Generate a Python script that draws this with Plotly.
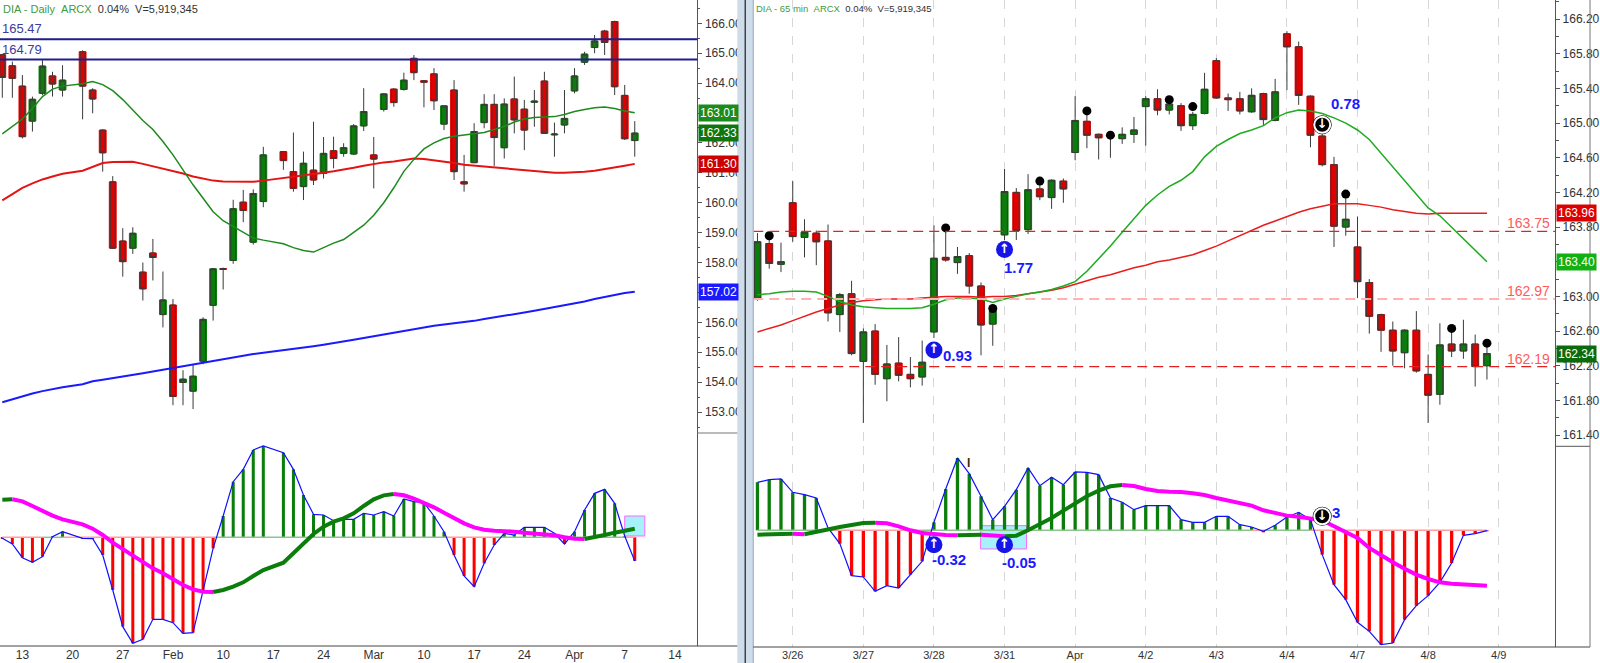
import numpy as np
import pandas as pd
import plotly.graph_objects as go

##########################################################################
# DIA daily (left) - trading days Jan 9 .. Apr 8 2014
holidays = ['2014-01-20', '2014-02-17']
d_dates = [d for d in pd.bdate_range('2014-01-09', '2014-04-08').strftime('%Y-%m-%d')
           if d not in holidays]

d_open = [164.95, 164.58, 163.90, 162.73, 163.66, 164.24, 163.77,
          165.05, 163.77, 162.43, 160.70,
          158.72, 158.48, 157.68, 158.32, 156.26,
          156.58, 153.99, 153.70, 154.70, 156.57,
          157.80, 158.07, 160.02, 158.68, 160.04,
          161.71, 161.04, 160.54, 161.09,
          160.98, 161.74, 161.65, 161.63, 162.57,
          161.60, 163.12, 163.80, 163.79, 164.83,
          164.08, 164.31, 162.63, 163.77, 160.70,
          161.34, 162.68, 163.29, 161.84, 163.47,
          163.13, 163.36, 164.07, 162.27, 162.60,
          163.74, 164.70, 165.19, 165.74, 166.06,
          163.59, 162.08]
d_high = [164.98, 164.72, 164.27, 163.55, 164.77, 164.38, 164.60,
          165.10, 163.83, 162.45, 160.89,
          159.15, 159.18, 158.00, 158.79, 157.70,
          156.78, 154.40, 154.60, 156.17, 157.82,
          157.83, 160.10, 160.43, 160.45, 161.87,
          161.72, 162.35, 161.71, 162.71,
          162.20, 162.21, 161.99, 162.63, 163.83,
          162.20, 163.66, 163.83, 164.35, 164.94,
          164.10, 164.50, 163.24, 164.10, 161.60,
          162.66, 163.63, 163.63, 163.49, 164.22,
          163.44, 163.77, 164.38, 162.68, 163.77,
          164.50, 165.05, 165.61, 165.78, 166.09,
          163.94, 162.73]
d_low = [163.51, 163.51, 162.15, 162.38, 163.60, 163.55, 163.55,
         162.79, 162.99, 161.04, 158.45,
         157.53, 158.29, 156.73, 157.40, 155.83,
         153.23, 153.23, 153.10, 154.60, 156.06,
         157.10, 157.96, 159.35, 158.60, 159.85,
         161.10, 160.37, 160.09, 160.59,
         160.81, 161.15, 161.54, 161.60, 162.40,
         160.48, 163.05, 163.21, 163.75, 164.10,
         163.19, 163.10, 162.43, 160.76, 160.37,
         161.34, 162.49, 161.23, 161.48, 162.32,
         161.76, 162.54, 162.32, 161.54, 162.32,
         163.66, 164.61, 165.00, 164.94, 163.60,
         162.10, 161.54]
d_close = [164.19, 164.16, 162.21, 163.46, 164.57, 163.97, 164.10,
           163.90, 163.47, 161.67, 158.48,
           158.03, 158.98, 157.12, 158.17, 156.75,
           153.52, 154.10, 154.20, 156.10, 157.79,
           157.77, 159.80, 159.74, 160.31, 161.60,
           161.41, 160.48, 161.32, 160.76,
           161.65, 161.48, 161.84, 162.57, 163.05,
           161.46, 163.64, 163.35, 164.10, 164.35,
           164.03, 163.41, 163.24, 161.04, 160.63,
           162.38, 163.29, 162.18, 163.30, 162.77,
           162.43, 163.40, 162.32, 162.30, 162.82,
           164.24, 164.97, 165.41, 165.36, 163.88,
           162.14, 162.33]
d_ma_fast = [162.30, 162.55, 162.80, 163.15, 163.55, 163.80, 163.90,
             163.98, 164.05, 163.95, 163.75,
             163.45, 163.10, 162.75, 162.45, 162.05,
             161.60, 161.10, 160.60, 160.15, 159.70,
             159.40, 159.20, 159.00, 158.82, 158.75,
             158.63, 158.50, 158.40, 158.35,
             158.50, 158.65, 158.77, 159.00, 159.25,
             159.58, 160.00, 160.50, 161.05, 161.45,
             161.80, 162.00, 162.15, 162.22, 162.27,
             162.30, 162.35, 162.45, 162.55, 162.70,
             162.80, 162.85, 162.86, 162.88, 162.95,
             163.05, 163.12, 163.18, 163.20, 163.15,
             163.07, 163.01]
d_ma_mid = [160.08, 160.30, 160.50, 160.65, 160.78, 160.88, 160.97,
            161.07, 161.20, 161.33, 161.36,
            161.37, 161.37, 161.30, 161.22, 161.15,
            161.08, 160.98, 160.88, 160.80, 160.74,
            160.71, 160.70, 160.70, 160.70, 160.74,
            160.82, 160.86, 160.91, 160.95,
            161.00, 161.05, 161.10, 161.17, 161.24,
            161.30, 161.35, 161.38, 161.43, 161.48,
            161.46, 161.42, 161.38, 161.33, 161.27,
            161.24, 161.21, 161.18, 161.15, 161.12,
            161.09, 161.06, 161.04, 161.00, 161.00,
            161.01, 161.04, 161.07, 161.12, 161.17,
            161.24, 161.30]
d_ma_slow = [153.33, 153.43, 153.52, 153.62, 153.70, 153.77, 153.83,
             153.93, 154.03, 154.08, 154.13,
             154.19, 154.25, 154.30, 154.36, 154.42,
             154.47, 154.53, 154.58, 154.65, 154.71,
             154.77, 154.83, 154.89, 154.94, 154.98,
             155.06, 155.11, 155.16, 155.20,
             155.25, 155.30, 155.36, 155.42, 155.48,
             155.54, 155.60, 155.66, 155.72, 155.78,
             155.84, 155.89, 155.93, 155.97, 156.00,
             156.05, 156.11, 156.16, 156.22, 156.27,
             156.33, 156.39, 156.45, 156.51, 156.57,
             156.63, 156.70, 156.78, 156.85, 156.92,
             156.98, 157.02]
d_hist = [-0.03, -0.20, -0.61, -0.75, -0.58, 0.02, 0.17,
          -0.03, -0.04, -0.53, -1.58,
          -2.68, -3.18, -3.06, -2.46, -2.46,
          -2.56, -2.88, -2.86, -1.58, -0.33,
          0.64, 1.67, 2.04, 2.62, 2.74,
          2.54, 2.04, 1.27, 0.69,
          0.67, 0.50, 0.54, 0.54, 0.72,
          0.67, 0.77, 0.64, 1.15, 1.07,
          1.04, 0.64, 0.17, -0.53, -1.16,
          -1.48, -0.78, -0.23, 0.12, 0.07,
          0.30, 0.30, 0.30, 0.12, -0.20,
          0.17, 0.82, 1.32, 1.44, 1.02,
          0.04, -0.71]
d_signal = [1.13, 1.14, 1.08, 0.94, 0.79, 0.65, 0.54,
            0.39, 0.26, 0.07, -0.16,
            -0.36, -0.56, -0.73, -0.93, -1.08,
            -1.26, -1.43, -1.56, -1.63, -1.64,
            -1.58, -1.48, -1.35, -1.16, -0.98,
            -0.76, -0.48, -0.18, 0.10,
            0.32, 0.47, 0.57, 0.72, 0.94,
            1.14, 1.26, 1.30, 1.26, 1.16,
            1.04, 0.90, 0.74, 0.57, 0.42,
            0.30, 0.23, 0.20, 0.19, 0.17,
            0.14, 0.12, 0.10, 0.06, 0.00,
            -0.04, -0.05, 0.00, 0.07, 0.14,
            0.20, 0.26]
d_levels = [165.47, 164.79]
d_price_ticks = [153, 154, 155, 156, 158, 159, 160, 161, 162, 164, 165, 166]
d_week_ticks = pd.date_range('2014-01-13', '2014-04-14', freq='W-MON')
d_week_labels = ['13', '20', '27', 'Feb', '10', '17', '24', 'Mar',
                 '10', '17', '24', 'Apr', '7', '14']

##########################################################################
# DIA 65 min (right) - 3/25 (last 3 bars) .. 4/8, six bars per session
sessions = pd.bdate_range('2014-03-25', '2014-04-09')
i_day_labels = ['3/26', '3/27', '3/28', '3/31', 'Apr', '4/2', '4/3',
                '4/4', '4/7', '4/8', '4/9']
i_price_ticks = [161.4, 161.8, 162.2, 162.6, 163.0, 163.8,
                 164.2, 164.6, 165.0, 165.4, 165.8, 166.2]

i_open = [162.98, 163.61, 163.37,
          164.08, 163.68, 163.73, 163.64, 162.79, 163.03,
          162.25, 162.60, 162.05, 162.23, 162.10, 162.07,
          162.59, 163.45, 163.39, 163.47, 163.12, 162.68,
          163.71, 164.20, 163.77, 164.24, 164.14, 164.33,
          164.66, 165.02, 164.87, 164.85, 164.82, 164.87,
          165.19, 165.28, 165.15, 165.20, 164.97, 165.11,
          165.72, 165.29, 165.28, 165.13, 165.34, 165.03,
          166.03, 165.88, 165.31, 164.85, 164.52, 163.80,
          163.57, 163.16, 162.79, 162.61, 162.35, 162.61,
          162.10, 161.87, 162.45, 162.37, 162.45, 162.20]
i_high = [163.73, 163.68, 163.62,
          164.33, 163.89, 163.76, 163.83, 163.04, 163.18,
          162.63, 162.68, 162.44, 162.53, 162.30, 162.49,
          163.82, 163.74, 163.57, 163.50, 163.16, 162.89,
          164.47, 164.25, 164.41, 164.36, 164.35, 164.36,
          165.31, 165.09, 164.88, 164.86, 164.95, 165.07,
          165.31, 165.39, 165.29, 165.23, 165.13, 165.58,
          165.75, 165.34, 165.36, 165.40, 165.35, 165.51,
          166.06, 165.94, 165.32, 164.90, 164.61, 164.15,
          163.92, 163.20, 162.80, 162.71, 162.62, 162.83,
          162.33, 162.69, 162.59, 162.73, 162.56, 162.44]
i_low = [162.95, 163.32, 163.28,
         163.63, 163.45, 163.36, 162.71, 162.59, 162.32,
         161.54, 161.98, 161.79, 162.02, 161.95, 161.97,
         162.52, 163.40, 163.26, 163.03, 162.32, 162.43,
         163.65, 163.65, 163.72, 164.11, 164.01, 164.08,
         164.57, 164.71, 164.58, 164.60, 164.76, 164.77,
         164.74, 165.09, 165.10, 164.91, 164.92, 165.10,
         165.28, 165.14, 165.10, 165.12, 164.97, 165.02,
         165.38, 165.21, 164.72, 164.50, 163.57, 163.70,
         162.98, 162.57, 162.36, 162.20, 162.17, 162.12,
         161.54, 161.75, 162.30, 162.28, 161.96, 162.04]
i_close = [163.63, 163.38, 163.40,
           163.69, 163.74, 163.63, 162.81, 163.02, 162.34,
           162.59, 162.10, 162.22, 162.09, 162.05, 162.24,
           163.44, 163.42, 163.46, 163.12, 162.67, 162.83,
           164.21, 163.76, 164.23, 164.15, 164.34, 164.24,
           165.03, 164.86, 164.83, 164.84, 164.87, 164.92,
           165.28, 165.15, 165.22, 164.97, 165.10, 165.39,
           165.29, 165.27, 165.14, 165.32, 165.04, 165.36,
           165.88, 165.32, 164.86, 164.52, 163.81, 163.89,
           163.17, 162.77, 162.61, 162.37, 162.61, 162.14,
           161.86, 162.44, 162.37, 162.45, 162.19, 162.34]
i_ma_fast = [163.02, 163.03, 163.05,
             163.06, 163.06, 163.05, 163.00, 162.94, 162.90,
             162.88, 162.87, 162.86, 162.86, 162.86, 162.87,
             162.91, 162.96, 162.98, 162.98, 162.97, 162.93,
             162.97, 163.00, 163.03, 163.05, 163.08, 163.12,
             163.17, 163.29, 163.43, 163.58, 163.74, 163.90,
             164.05, 164.17, 164.27, 164.34, 164.44, 164.61,
             164.73, 164.81, 164.88, 164.92, 164.97, 165.06,
             165.12, 165.15, 165.14, 165.11, 165.06, 165.00,
             164.92, 164.81, 164.65, 164.50, 164.34, 164.17,
             164.02, 163.93, 163.80, 163.67, 163.54, 163.40]
i_ma_slow = [162.59, 162.63, 162.67,
             162.72, 162.77, 162.82, 162.86, 162.90, 162.93,
             162.95, 162.96, 162.97, 162.97, 162.97, 162.98,
             162.99, 163.00, 163.00, 163.00, 162.99, 163.00,
             163.00, 163.01, 163.03, 163.05, 163.07, 163.10,
             163.14, 163.18, 163.22, 163.25, 163.29, 163.33,
             163.36, 163.40, 163.42, 163.45, 163.48, 163.53,
             163.58, 163.64, 163.70, 163.76, 163.82, 163.87,
             163.92, 163.97, 164.01, 164.04, 164.07, 164.07,
             164.07, 164.05, 164.03, 164.00, 163.98, 163.96,
             163.95, 163.96, 163.96, 163.96, 163.96, 163.96]
i_hist = [1.44, 1.52, 1.54,
          1.14, 1.07, 0.97, 0.07, -0.40, -1.36,
          -1.40, -1.83, -1.66, -1.73, -1.33, -0.93,
          0.24, 1.24, 2.17, 1.70, 1.02, 0.32,
          0.72, 1.22, 1.87, 1.34, 1.59, 1.37,
          1.75, 1.74, 1.67, 0.97, 0.84, 0.62,
          0.74, 0.74, 0.74, 0.32, 0.24, 0.24,
          0.42, 0.42, 0.17, 0.10, -0.03, 0.15,
          0.40, 0.54, 0.32, -0.73, -1.63, -2.08,
          -2.76, -3.03, -3.43, -3.38, -2.68, -2.26,
          -1.96, -1.56, -0.98, -0.15, -0.10, -0.01]
i_signal = [-0.13, -0.12, -0.11,
            -0.10, -0.12, -0.04, 0.03, 0.10, 0.16,
            0.22, 0.23, 0.21, 0.12, 0.00, -0.08,
            -0.12, -0.14, -0.15, -0.14, -0.13, -0.17,
            -0.18, -0.16, 0.00, 0.17, 0.37, 0.59,
            0.82, 1.02, 1.19, 1.32, 1.36, 1.33,
            1.24, 1.18, 1.16, 1.15, 1.11, 1.06,
            0.97, 0.90, 0.84, 0.74, 0.60, 0.52,
            0.44, 0.41, 0.37, 0.30, 0.12, -0.05,
            -0.23, -0.53, -0.76, -0.96, -1.15, -1.33,
            -1.46, -1.56, -1.60, -1.63, -1.65, -1.66]
i_levels = [163.75, 162.97, 162.19]
i_dot_bars = [1, 16, 20, 24, 28, 30, 35, 37, 50, 59, 62]
i_dot_price = [163.70, 163.79, 162.86, 164.33, 165.14, 164.86,
               165.27, 165.19, 164.18, 162.63, 162.46]
i_up_bars = [15, 21]
i_up_price = [162.38, 163.54]
i_up_osc = [-0.43, -0.43]
i_down_bars = [48]
i_down_price = [164.98]
i_down_osc = [0.42]

##########################################################################
W, H = 1600, 663
GREEN, RED = '#0a7d0a', '#e00000'
BLUE, MAGENTA = '#1010ff', '#ff00ff'
FONT = 'Liberation Sans, Arial, sans-serif'


def px(x):
    return x / W


def py(y):
    return 1 - y / H


d_x = np.busday_count(np.datetime64('2014-01-09'),
                      np.array(d_dates, dtype='datetime64[D]'))
d_tick_x = np.busday_count(np.datetime64('2014-01-09'),
                           np.array(d_week_ticks.strftime('%Y-%m-%d'), dtype='datetime64[D]'))

grid = [(s, j) for s in range(len(sessions)) for j in range(6)]
bars = grid[3:3 + len(i_open)]
i_x = np.array([6 * s + j for s, j in bars]) - 6
i_tick_x = [6 * s - 6 for s in range(1, len(sessions))]

fig = go.Figure()


def add_candles(x, o, h, l, c, xa, ya, width):
    fig.add_trace(go.Candlestick(
        x=x, open=o, high=h, low=l, close=c, xaxis=xa, yaxis=ya,
        increasing=dict(line=dict(color='#3a3a3a', width=1), fillcolor=GREEN),
        decreasing=dict(line=dict(color='#3a3a3a', width=1), fillcolor=RED),
        whiskerwidth=0, hoverinfo='skip', showlegend=False))
    o, c = np.array(o), np.array(c)
    cols = [GREEN if cc >= oo else RED for oo, cc in zip(o, c)]
    fig.add_trace(go.Bar(
        x=x, y=np.maximum(np.abs(c - o), 0.012), base=np.minimum(o, c),
        width=width, marker=dict(color=cols, line=dict(color=cols, width=1)),
        xaxis=xa, yaxis=ya, hoverinfo='skip', showlegend=False))


def add_line(x, y, color, width, xa, ya):
    fig.add_trace(go.Scatter(x=x, y=y, mode='lines', line=dict(color=color, width=width),
                             xaxis=xa, yaxis=ya, hoverinfo='skip', showlegend=False))


def add_runs(x, y, seg_colors, width, xa, ya):
    # one trace per run of equally coloured segments
    start = 0
    for i in range(1, len(seg_colors) + 1):
        if i == len(seg_colors) or seg_colors[i] != seg_colors[start]:
            add_line(x[start:i + 1], y[start:i + 1], seg_colors[start], width, xa, ya)
            start = i


def add_oscillator(x, hist, signal, xa, ya, bar_w):
    zero_cols = ['#8cc58c' if hist[i + 1] >= 0 else '#ff9c9c' for i in range(len(hist) - 1)]
    add_runs(x, [0] * len(hist), zero_cols, 1.5, xa, ya)
    fig.add_trace(go.Bar(x=x, y=hist, width=bar_w,
                         marker=dict(color=[GREEN if v >= 0 else '#ff0000' for v in hist],
                                     line=dict(width=0)),
                         xaxis=xa, yaxis=ya, hoverinfo='skip', showlegend=False))
    add_line(x, hist, BLUE, 1.2, xa, ya)
    sig_cols = [GREEN if signal[i + 1] >= signal[i] else MAGENTA for i in range(len(signal) - 1)]
    add_runs(x, signal, sig_cols, 4, xa, ya)


def add_icon(x, y, xa, ya, fill, arrow, ring):
    if ring:
        fig.add_trace(go.Scatter(x=x, y=y, mode='markers', xaxis=xa, yaxis=ya,
                                 marker=dict(color='black', size=19, symbol='circle'),
                                 hoverinfo='skip', showlegend=False))
    fig.add_trace(go.Scatter(x=x, y=y, mode='markers+text', xaxis=xa, yaxis=ya,
                             marker=dict(color=fill, size=16 if ring else 17, symbol='circle',
                                         line=dict(color='white', width=2 if ring else 0)),
                             text=[f'<b>{arrow}</b>'] * len(x), textposition='middle center',
                             textfont=dict(color='white', size=13, family='DejaVu Sans'),
                             hoverinfo='skip', showlegend=False))


# left: daily
add_line(d_x, d_ma_slow, '#1a1aff', 2, 'x', 'y')
add_line(d_x, d_ma_mid, '#e41414', 2, 'x', 'y')
add_line(d_x, d_ma_fast, '#1d8a1d', 1.5, 'x', 'y')
add_candles(d_x, d_open, d_high, d_low, d_close, 'x', 'y', 0.68)
add_oscillator(d_x, d_hist, d_signal, 'x2', 'y2', 0.3)

# right: 65 min
add_line(i_x, i_ma_slow, '#ea1c1c', 1.5, 'x3', 'y3')
add_line(i_x, i_ma_fast, '#1faa1f', 1.5, 'x3', 'y3')
add_candles(i_x, i_open, i_high, i_low, i_close, 'x3', 'y3', 0.6)
add_oscillator(i_x, i_hist, i_signal, 'x4', 'y4', 0.28)

fig.add_trace(go.Scatter(x=i_x[i_dot_bars], y=i_dot_price, mode='markers',
                         marker=dict(color='black', size=9), xaxis='x3', yaxis='y3',
                         hoverinfo='skip', showlegend=False))
add_icon(i_x[i_up_bars], i_up_price, 'x3', 'y3', '#1515e8', '\u2191', False)
add_icon(i_x[i_up_bars], i_up_osc, 'x4', 'y4', '#1515e8', '\u2191', False)
add_icon(i_x[i_down_bars], i_down_price, 'x3', 'y3', 'black', '\u2193', True)
add_icon(i_x[i_down_bars], i_down_osc, 'x4', 'y4', 'black', '\u2193', True)

##########################################################################
shapes = []
for lv in d_levels:
    shapes.append(dict(type='line', xref='x domain', yref='y', x0=0, x1=1, y0=lv, y1=lv,
                       line=dict(color='#1e1e8c', width=2)))
for lv in i_levels:
    pale = lv == i_levels[1]
    shapes.append(dict(type='line', xref='x3 domain', yref='y3', x0=0, x1=1, y0=lv, y1=lv,
                       line=dict(color='#ffb0b0' if pale else '#e42020',
                                 width=2 if pale else 1.2, dash='10px,6px')))
# highlight boxes in the oscillators
shapes.append(dict(type='rect', xref='x2', yref='y2', x0=d_x[-2], x1=d_x[-1] + 1,
                   y0=d_hist[-2], y1=0.64, layer='below',
                   fillcolor='#a6f2fa', line=dict(color='#ff66ff', width=1)))
shapes.append(dict(type='rect', xref='x4', yref='y4', x0=15.97, x1=19.86,
                   y0=-0.56, y1=0.14, layer='below',
                   fillcolor='#a6f2fa', line=dict(color='#ff66ff', width=1)))
# window chrome: splitter, separators, bottom lines, right border
shapes += [
    dict(type='rect', xref='paper', yref='paper', x0=px(741), x1=px(757.5), y0=0, y1=1,
         fillcolor='#cfdcea', line=dict(width=0)),
    dict(type='line', xref='paper', yref='paper', x0=px(749), x1=px(749), y0=0, y1=1,
         line=dict(color='#444', width=1.5)),
    dict(type='line', xref='paper', yref='paper', x0=px(757), x1=px(757), y0=0, y1=1,
         line=dict(color='#98aabd', width=1)),
    dict(type='line', xref='paper', yref='paper', x0=px(701), x1=px(741),
         y0=py(433), y1=py(433), line=dict(color='#777', width=1)),
    dict(type='line', xref='paper', yref='paper', x0=px(1563), x1=px(1598),
         y0=py(446.3), y1=py(446.3), line=dict(color='#555', width=1)),
    dict(type='line', xref='paper', yref='paper', x0=0, x1=px(741),
         y0=py(646), y1=py(646), line=dict(color='#444', width=1)),
    dict(type='line', xref='paper', yref='paper', x0=px(757), x1=px(1598),
         y0=py(647), y1=py(647), line=dict(color='#444', width=1)),
    dict(type='line', xref='paper', yref='paper', x0=px(1598), x1=px(1598),
         y0=py(647), y1=1, line=dict(color='#777', width=1)),
]

G = '#3f9a3f'
annotations = [
    dict(xref='paper', yref='paper', x=px(1), y=py(1), xanchor='left', yanchor='top',
         showarrow=False, font=dict(size=11, color='#333'),
         text=f'<span style="color:{G}">DIA - Daily</span>\u00a0\u00a0<span style="color:{G}">ARCX</span>'
              '\u00a0\u00a00.04%\u00a0\u00a0V=5,919,345'),
    dict(xref='paper', yref='paper', x=px(758), y=py(1), xanchor='left', yanchor='top',
         showarrow=False, font=dict(size=9.5, color='#333'),
         text=f'<span style="color:{G}">DIA - 65 min</span>\u00a0\u00a0<span style="color:{G}">ARCX</span>'
              '\u00a0\u00a00.04%\u00a0\u00a0V=5,919,345'),
]
for lv in d_levels:
    annotations.append(dict(xref='paper', yref='y', x=0, y=lv, xanchor='left', yanchor='bottom',
                            yshift=1, showarrow=False, text=f'{lv:.2f}',
                            font=dict(size=13, color='#3c3c9c')))
for lv in i_levels:
    annotations.append(dict(xref='paper', yref='y3', x=px(1560), y=lv, xanchor='right',
                            yanchor='bottom', yshift=-2, showarrow=False, text=f'{lv:.2f}',
                            font=dict(size=14, color='#ff5a5a')))
# last-value flags on the price axes
for val, bg, ya, xp in ((d_ma_fast[-1], '#1c8a1c', 'y', 701), (d_close[-1], '#0f760f', 'y', 701),
                        (d_ma_mid[-1], '#cc0000', 'y', 701), (d_ma_slow[-1], '#1a1aff', 'y', 701),
                        (i_ma_slow[-1], '#dd0000', 'y3', 1563), (i_ma_fast[-1], '#12b012', 'y3', 1563),
                        (i_close[-1], '#0b6a0b', 'y3', 1563)):
    annotations.append(dict(xref='paper', yref=ya, x=px(xp + 1), y=val, xanchor='left',
                            yanchor='middle', showarrow=False, text=f'{val:.2f}',
                            bgcolor=bg, borderpad=1, font=dict(size=12, color='white')))
# signal values
for x, y, txt, ya in ((14.0, 162.32, '0.93', 'y3'), (19.2, 163.33, '1.77', 'y3'),
                      (47.0, 165.22, '0.78', 'y3'), (13.24, -0.88, '-0.32', 'y4'),
                      (19.24, -0.96, '-0.05', 'y4'), (46.2, 0.52, '3', 'y4')):
    annotations.append(dict(xref='x3' if ya == 'y3' else 'x4', yref=ya, x=x, y=y, text=f'<b>{txt}</b>',
                            showarrow=False, font=dict(size=15, color='#1a1aff')))
annotations.append(dict(xref='x4', yref='y4', x=14.9, y=2.02, text='<b>I</b>', showarrow=False,
                        font=dict(size=12, color='#3a2a10')))

axis_common = dict(showgrid=False, zeroline=False, fixedrange=True)
price_y = dict(axis_common, side='right', showline=True, linecolor='#555', linewidth=1,
               ticks='outside', ticklen=4, tickcolor='#555', tickformat='.2f',
               tickmode='array', tickfont=dict(size=12, color='#333'))
osc_y = dict(axis_common, side='right', showline=True, linecolor='#555', linewidth=1,
             showticklabels=False, ticks='')

fig.update_layout(
    width=W, height=H, margin=dict(l=0, r=0, t=0, b=0),
    paper_bgcolor='white', plot_bgcolor='white',
    font=dict(family=FONT, color='#333'),
    barmode='overlay', hovermode=False, showlegend=False,
    shapes=shapes, annotations=annotations,
    xaxis=dict(axis_common, domain=[0, px(701)], anchor='y', range=[-0.23, 69.25],
               showticklabels=False, rangeslider=dict(visible=False)),
    yaxis=dict(price_y, domain=[py(433), 1], anchor='x', range=[152.30, 166.78],
               tickvals=d_price_ticks,
               minor=dict(dtick=0.5, ticks='outside', ticklen=2, tickcolor='#555')),
    xaxis2=dict(axis_common, domain=[0, px(701)], anchor='y2', range=[-0.23, 69.25],
                tickmode='array', tickvals=d_tick_x, ticktext=d_week_labels,
                ticks='', tickfont=dict(size=12, color='#333')),
    yaxis2=dict(osc_y, domain=[py(646), py(433)], anchor='x2', range=[-3.26, 3.13]),
    xaxis3=dict(axis_common, domain=[px(757), px(1563)], anchor='y3', range=[-3.36, 64.8],
                tickmode='array', tickvals=i_tick_x, showticklabels=False, ticks='',
                showgrid=True, gridcolor='#d6d6d6', griddash='dash', gridwidth=1,
                rangeslider=dict(visible=False)),
    yaxis3=dict(price_y, domain=[py(446.3), 1], anchor='x3', range=[161.27, 166.42],
                tickvals=i_price_ticks,
                minor=dict(tick0=161.4, dtick=0.2, ticks='outside', ticklen=3, tickcolor='#555')),
    xaxis4=dict(axis_common, domain=[px(757), px(1563)], anchor='y4', range=[-3.36, 64.8],
                tickmode='array', tickvals=i_tick_x, ticktext=i_day_labels, ticks='',
                showgrid=True, gridcolor='#d6d6d6', griddash='dash', gridwidth=1,
                tickfont=dict(size=11, color='#333')),
    yaxis4=dict(osc_y, domain=[py(647), py(446.3)], anchor='x4', range=[-3.5, 2.52]),
)

fig.write_html("out.html", config={'displayModeBar': False},
               post_script="document.body.style.margin='0';")
